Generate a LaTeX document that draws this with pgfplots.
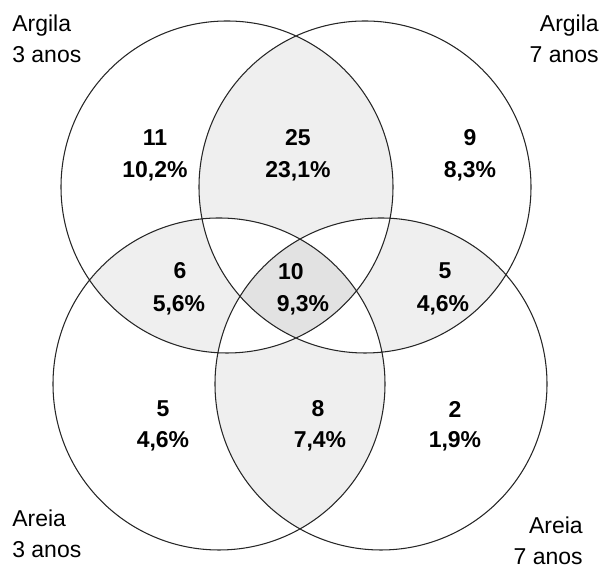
\documentclass[border=0pt]{standalone}
\usepackage{pgfplots}
\pgfplotsset{compat=1.18}
\usepackage{pgfplotstable}
\usepackage{fontspec}
\setmainfont{Liberation Sans}

\definecolor{lens}{HTML}{EFEFEF}
\definecolor{core}{HTML}{E2E2E2}

% region counts (x, y = position of the label)
\pgfplotstableread{
x   y    n
155 430  11
298 430  25
470 430  9
180 297  6
291 296  10
445 297  5
163 159  5
318 159  8
455 159  2
}\counts

\pgfplotstableread{
x   y    p
155 397  10,2
298 397  23,1
470 397  8,3
179 263  5,6
303 263  9,3
443 263  4,6
163 127  4,6
320 127  7,4
455 127  1,9
}\pcts

\begin{document}
\begin{tikzpicture}
\begin{axis}[
    width=12cm, height=11.3035cm,
    scale only axis,
    xmin=0, xmax=603, ymin=0, ymax=568,
    hide axis,
    clip=false,
]
    % union of the circles
    \fill[lens] (axis cs:227,381) circle[radius=166]
                (axis cs:365,381) circle[radius=166]
                (axis cs:219,184) circle[radius=166]
                (axis cs:381,184) circle[radius=166];
    % regions in 1 or 3 circles back to white
    \fill[white, even odd rule]
                (axis cs:227,381) circle[radius=166]
                (axis cs:365,381) circle[radius=166]
                (axis cs:219,184) circle[radius=166]
                (axis cs:381,184) circle[radius=166];
    % region in all four
    \begin{scope}
        \clip (axis cs:227,381) circle[radius=166];
        \clip (axis cs:365,381) circle[radius=166];
        \clip (axis cs:219,184) circle[radius=166];
        \fill[core] (axis cs:381,184) circle[radius=166];
    \end{scope}
    \draw[line width=0.6pt, black!85]
                (axis cs:227,381) circle[radius=166]
                (axis cs:365,381) circle[radius=166]
                (axis cs:219,184) circle[radius=166]
                (axis cs:381,184) circle[radius=166];

    \addplot[draw=none, mark=none, nodes near coords,
        point meta=explicit symbolic,
        nodes near coords style={anchor=center, inner sep=0pt,
            font=\fontsize{13}{15}\selectfont\bfseries}]
        table[x=x, y=y, meta=n] {\counts};
    \addplot[draw=none, mark=none,
        nodes near coords={\pgfplotspointmeta\%},
        point meta=explicit symbolic,
        nodes near coords style={anchor=center, inner sep=0pt,
            font=\fontsize{13}{15}\selectfont\bfseries}]
        table[x=x, y=y, meta=p] {\pcts};

    \node[anchor=north west, align=left, inner sep=0pt,
        font=\fontsize{13}{17.5}\selectfont] at (axis cs:12,553) {Argila\\3 anos};
    \node[anchor=north east, align=right, inner sep=0pt,
        font=\fontsize{13}{17.5}\selectfont] at (axis cs:599,553) {Argila\\7 anos};
    \node[anchor=north west, align=left, inner sep=0pt,
        font=\fontsize{13}{17.5}\selectfont] at (axis cs:12,58) {Areia\\3 anos};
    \node[anchor=north east, align=right, inner sep=0pt,
        font=\fontsize{13}{17.5}\selectfont] at (axis cs:583,51) {Areia\\7 anos};
\end{axis}
\pgfresetboundingbox
\path (0,0) rectangle (12cm,11.3035cm);
\end{tikzpicture}
\end{document}
